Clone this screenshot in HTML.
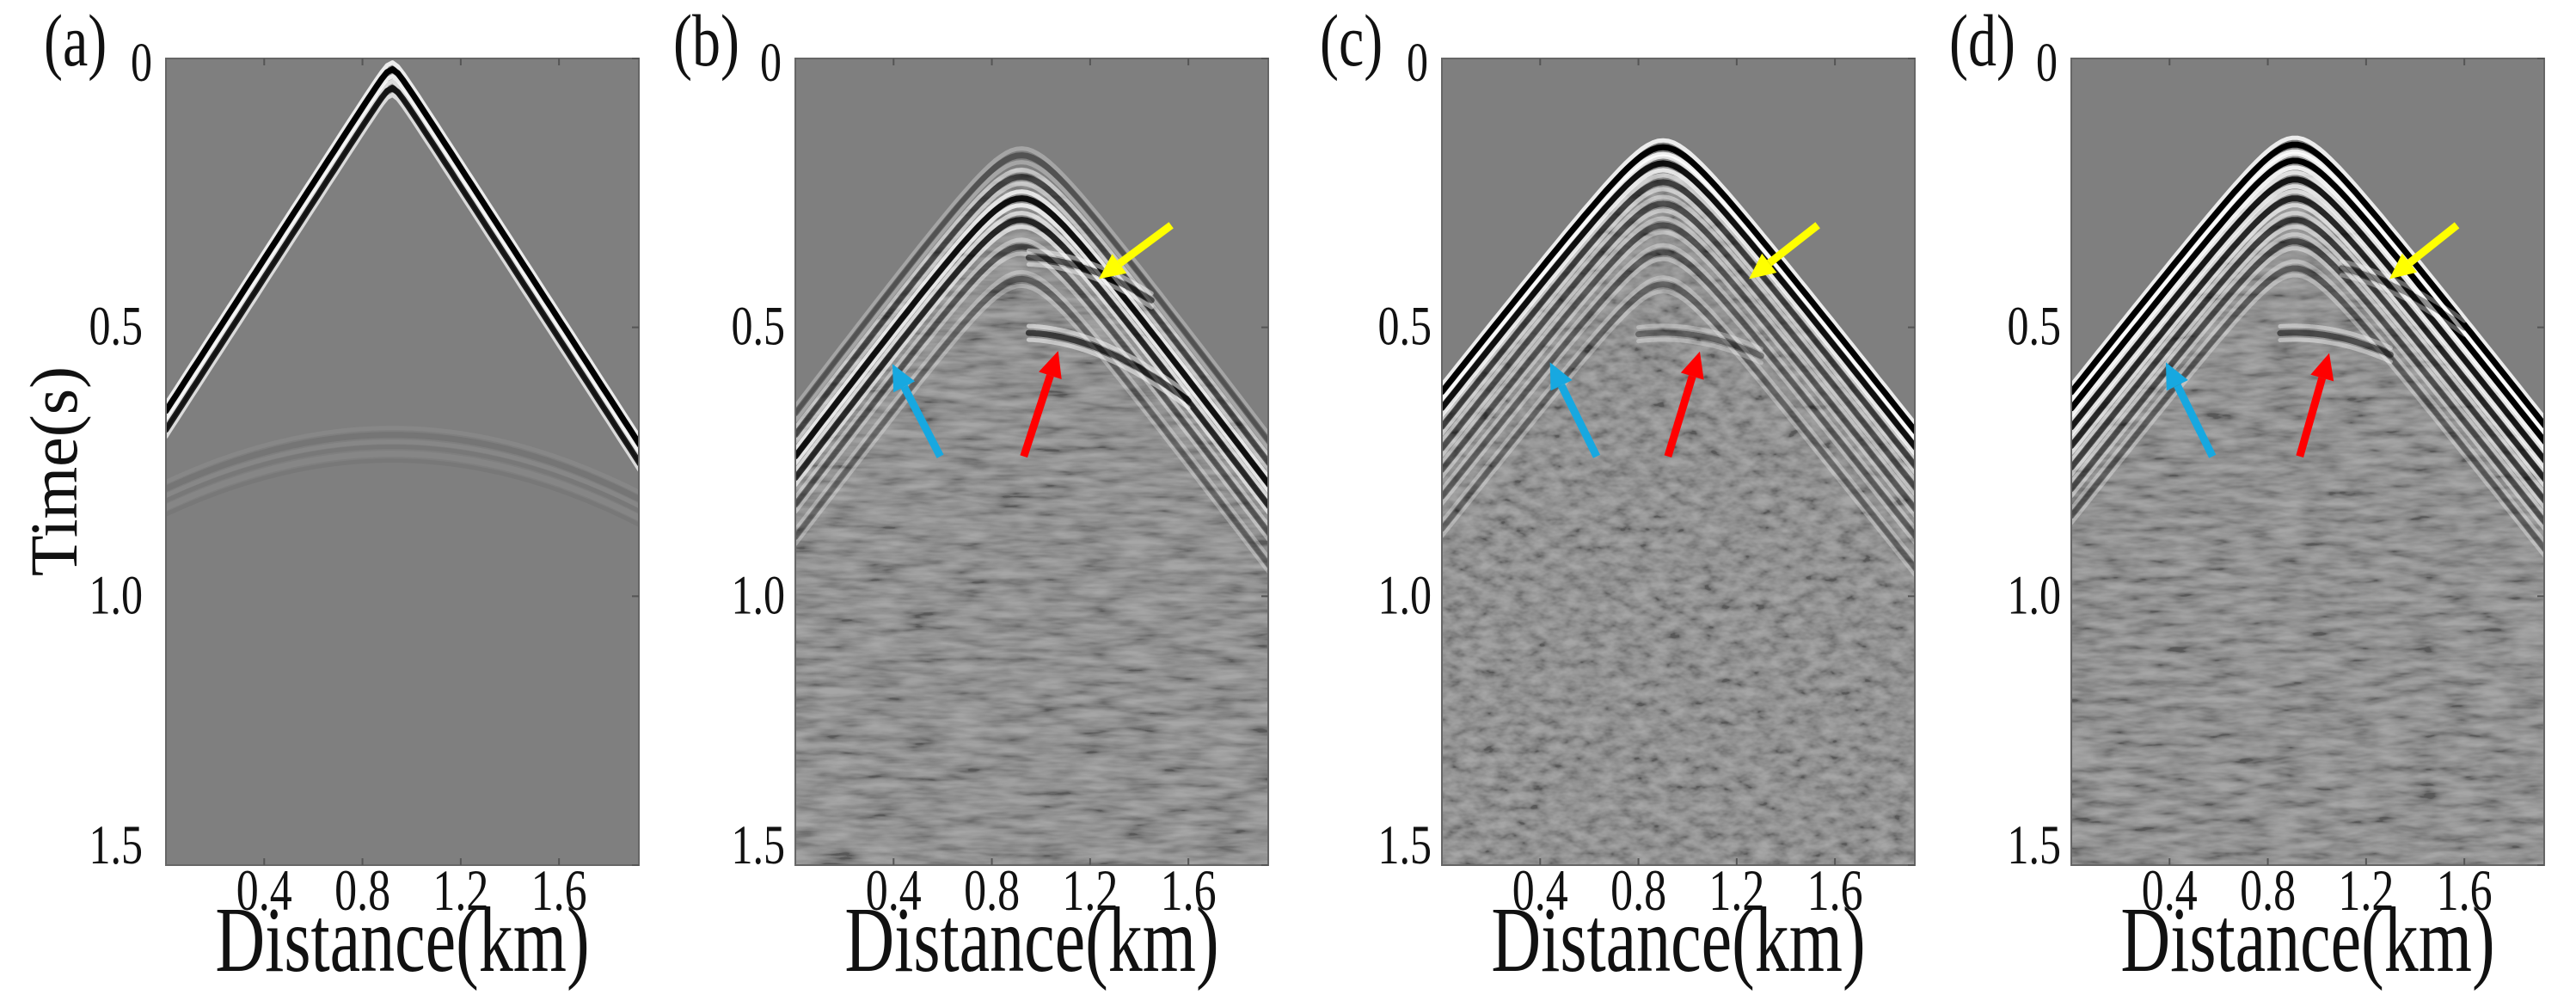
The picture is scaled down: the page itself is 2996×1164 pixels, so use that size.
<!DOCTYPE html>
<html><head><meta charset="utf-8"><style>
html,body{margin:0;padding:0;background:#fff;}
svg{display:block;}
text{font-family:"Liberation Serif","Times New Roman",serif;fill:#111;}
</style></head><body>
<svg id="fig" width="2996" height="1164" viewBox="0 0 2996 1164" xmlns="http://www.w3.org/2000/svg">
<defs>
<filter id="noiseB" x="0" y="0" width="1" height="1"><feTurbulence type="fractalNoise" baseFrequency="0.02 0.11" numOctaves="3" seed="3"/><feColorMatrix type="matrix" values="1.6 0 0 0 -0.3 1.6 0 0 0 -0.3 1.6 0 0 0 -0.3 0 0 0 0 1"/></filter>
<filter id="noiseC" x="0" y="0" width="1" height="1"><feTurbulence type="fractalNoise" baseFrequency="0.05 0.09" numOctaves="3" seed="7"/><feColorMatrix type="matrix" values="1.6 0 0 0 -0.3 1.6 0 0 0 -0.3 1.6 0 0 0 -0.3 0 0 0 0 1"/></filter>
<filter id="noiseD" x="0" y="0" width="1" height="1"><feTurbulence type="fractalNoise" baseFrequency="0.025 0.1" numOctaves="3" seed="11"/><feColorMatrix type="matrix" values="1.6 0 0 0 -0.3 1.6 0 0 0 -0.3 1.6 0 0 0 -0.3 0 0 0 0 1"/></filter>
</defs>
</svg>
<script>
// ---- data ----
const panelIds = ['a','b','c','d'];
const panelLeft = [193, 925, 1677, 2409];
const xTicks = [0.4, 0.8, 1.2, 1.6];
const xTickLabels = ['0.4','0.8','1.2','1.6'];
const yTicks = [0, 0.5, 1.0, 1.5];
const yTickLabels = ['0','0.5','1.0','1.5'];
const apexX = [0.92, 0.92, 0.90, 0.91];
const velocity = [1.415, 1.66, 1.73, 1.73];
// events per panel: apex time, amplitude, curvature, x-extent
const eventT0_a = [0.02, 0.055, 0.70, 0.735];
const eventAmp_a = [1, 0.85, 0.08, -0.06];
const eventCurv_a = [0.015, 0.015, 2.06, 2.06];
const eventXmin_a = [0, 0, 0, 0];
const eventXmax_a = [1.93, 1.93, 1.93, 1.93];
const eventT0_b = [0.18, 0.22, 0.26, 0.30, 0.35, 0.41, 0.37, 0.51];
const eventAmp_b = [0.35, 0.55, 0.9, 0.75, 0.45, 0.35, 0.55, 0.6];
const eventCurv_b = [0.08, 0.08, 0.08, 0.08, 0.08, 0.08, 0.6, 0.6];
const eventXmin_b = [0, 0, 0, 0, 0, 0, 0.95, 0.95];
const eventXmax_b = [1.93, 1.93, 1.93, 1.93, 1.93, 1.93, 1.45, 1.6];
const eventT0_c = [0.165, 0.195, 0.23, 0.27, 0.31, 0.36, 0.42, 0.51];
const eventAmp_c = [1, 0.9, 0.6, 0.5, 0.45, 0.4, 0.35, 0.35];
const eventCurv_c = [0.07, 0.07, 0.07, 0.07, 0.07, 0.07, 0.07, 0.6];
const eventXmin_c = [0, 0, 0, 0, 0, 0, 0, 0.8];
const eventXmax_c = [1.93, 1.93, 1.93, 1.93, 1.93, 1.93, 1.93, 1.3];
const eventT0_d = [0.16, 0.19, 0.225, 0.26, 0.30, 0.34, 0.39, 0.51, 0.38];
const eventAmp_d = [1, 1, 0.85, 0.75, 0.6, 0.5, 0.4, 0.5, 0.4];
const eventCurv_d = [0.07, 0.07, 0.07, 0.07, 0.07, 0.07, 0.07, 0.6, 0.6];
const eventXmin_d = [0, 0, 0, 0, 0, 0, 0, 0.85, 1.1];
const eventXmax_d = [1.93, 1.93, 1.93, 1.93, 1.93, 1.93, 1.93, 1.3, 1.6];
// arrows per panel (b,c,d): [tailX, tailT, tipX, tipT]
const blueArrow = [null, [0.59,0.74,0.395,0.568], [0.63,0.74,0.44,0.565], [0.575,0.74,0.385,0.565]];
const redArrow = [null, [0.93,0.74,1.07,0.544], [0.92,0.74,1.05,0.545], [0.93,0.74,1.05,0.548]];
const yellowArrow = [null, [1.53,0.31,1.235,0.41], [1.53,0.31,1.25,0.41], [1.57,0.31,1.295,0.41]];

const eventT0 = [eventT0_a, eventT0_b, eventT0_c, eventT0_d];
const eventAmp = [eventAmp_a, eventAmp_b, eventAmp_c, eventAmp_d];
const eventCurv = [eventCurv_a, eventCurv_b, eventCurv_c, eventCurv_d];
const eventXmin = [eventXmin_a, eventXmin_b, eventXmin_c, eventXmin_d];
const eventXmax = [eventXmax_a, eventXmax_b, eventXmax_c, eventXmax_d];
const noiseFilters = [null, 'noiseB', 'noiseC', 'noiseD'];

// ---- layout ----
const W = 550, TOP = 68, H = 938, XMAX = 1.925, TMAX = 1.5;
const NS = 'http://www.w3.org/2000/svg';
const svg = document.getElementById('fig');
const defs = svg.querySelector('defs');
function mk(tag, attrs, parent){const e=document.createElementNS(NS,tag);for(const k in attrs)e.setAttribute(k,attrs[k]);(parent||svg).appendChild(e);return e;}

panelIds.forEach((id, p) => {
  const L = panelLeft[p];
  const X = x => L + x / XMAX * W;
  const Y = t => TOP + t / TMAX * H;
  const tt = (x, t0, c) => t0 + Math.sqrt(c*c + Math.pow((x - apexX[p]) / velocity[p], 2)) - c;

  const g = mk('g', {});
  
  

  const cp = mk('clipPath', {id: 'clip' + id}, defs);
  mk('rect', {x: L, y: TOP, width: W, height: H}, cp);

  const plot = mk('g', {'clip-path': 'url(#clip' + id + ')'}, g);
  
  
  mk('rect', {x: L, y: TOP, width: W, height: H, fill: '#7f7f7f'}, plot);

  const N = 90;
  const t0s = eventT0[p], amps = eventAmp[p], curvs = eventCurv[p];
  if (noiseFilters[p]) {
    let d = '';
    for (let i = 0; i <= N; i++) { const x = i / N * XMAX; d += (i ? 'L' : 'M') + X(x).toFixed(1) + ',' + (Y(tt(x, t0s[0], curvs[0])) + 14).toFixed(1); }
    d += 'L' + (L + W) + ',' + (TOP + H) + 'L' + L + ',' + (TOP + H) + 'Z';
    const nc = mk('clipPath', {id: 'nclip' + id}, defs);
    mk('path', {d: d}, nc);
    const nr = mk('rect', {x: L, y: TOP, width: W, height: H, filter: 'url(#' + noiseFilters[p] + ')', 'clip-path': 'url(#nclip' + id + ')', opacity: 0.3}, plot);
    
    
  }
  t0s.forEach((t0, k) => {
    const a = amps[k];
    const mid = a >= 0 ? '#000' : '#fff', side = a >= 0 ? '#fff' : '#000';
    const op = Math.min(1, Math.abs(a));
    const x0 = eventXmin[p][k], x1 = eventXmax[p][k];
    [[-8, side, 5, 0.85], [8, side, 5, 0.85], [0, mid, 7, 1]].forEach(([off, col, w, f]) => {
      let d = '';
      for (let i = 0; i <= N; i++) { const x = x0 + i / N * (x1 - x0); d += (i ? 'L' : 'M') + X(x).toFixed(1) + ',' + (Y(tt(x, t0, curvs[k])) + off).toFixed(1); }
      const path = mk('path', {d: d, fill: 'none', stroke: col, 'stroke-width': w, 'stroke-opacity': op * f, 'stroke-linejoin': 'round', 'stroke-linecap': 'round'}, plot);
      
      
    });
  });

  [[blueArrow, '#17a8e0', 'blue-arrow'], [redArrow, '#ff0000', 'red-arrow'], [yellowArrow, '#ffff00', 'yellow-arrow']].forEach(([arr, col, nm]) => {
    const a = arr[p]; if (!a) return;
    const x1 = X(a[0]), y1 = Y(a[1]), x2 = X(a[2]), y2 = Y(a[3]);
    const dx = x2 - x1, dy = y2 - y1, len = Math.hypot(dx, dy), ux = dx / len, uy = dy / len;
    const hl = 30, hw = 14;
    const bx = x2 - ux * hl, by = y2 - uy * hl;
    const ag = mk('g', {}, g);
    
    
    mk('line', {x1: x1, y1: y1, x2: bx, y2: by, stroke: col, 'stroke-width': 9}, ag);
    mk('polygon', {points: `${x2},${y2} ${bx - uy * hw},${by + ux * hw} ${bx + uy * hw},${by - ux * hw}`, fill: col}, ag);
  });

  const fr = mk('rect', {x: L, y: TOP, width: W, height: H, fill: 'none', stroke: '#666', 'stroke-width': 2}, g);
  
  

  xTicks.forEach((v, i) => {
    mk('line', {x1: X(v), x2: X(v), y1: TOP, y2: TOP + 8, stroke: '#555', 'stroke-width': 2}, g);
    mk('line', {x1: X(v), x2: X(v), y1: TOP + H, y2: TOP + H - 8, stroke: '#555', 'stroke-width': 2}, g);
    const tx = mk('text', {transform: `translate(${X(v)},1058) scale(1,1.3)`, 'text-anchor': 'middle', 'font-size': 52}, g);
    tx.textContent = xTickLabels[i];
    
    
  });
  const gap = p === 0 ? 27 : 12;
  yTicks.forEach((v, i) => {
    mk('line', {x1: L + W, x2: L + W - 8, y1: Y(v), y2: Y(v), stroke: '#555', 'stroke-width': 2}, g);
    const yy = i === 0 ? 94 : (i === yTicks.length - 1 ? 1004 : Y(v) + 20);
    const gg = i === 0 ? 16 : gap;
    const ty = mk('text', {transform: `translate(${L - gg},${yy}) scale(1,1.3)`, 'text-anchor': 'end', 'font-size': 50}, g);
    ty.textContent = yTickLabels[i];
    
    
  });

  const xl = mk('text', {transform: `translate(${L + W / 2},1129) scale(1,1.35)`, 'text-anchor': 'middle', 'font-size': 80}, g);
  xl.textContent = 'Distance(km)';
  
  

  const pl = mk('text', {transform: `translate(${L - 142},76) scale(1,1.3)`, 'font-size': 66}, g);
  pl.textContent = '(' + id + ')';
  
  
});

const yt = mk('text', {transform: 'translate(89,548) rotate(-90)', 'text-anchor': 'middle', 'font-size': 78});
yt.textContent = 'Time(s)';


</script>
</body></html>
